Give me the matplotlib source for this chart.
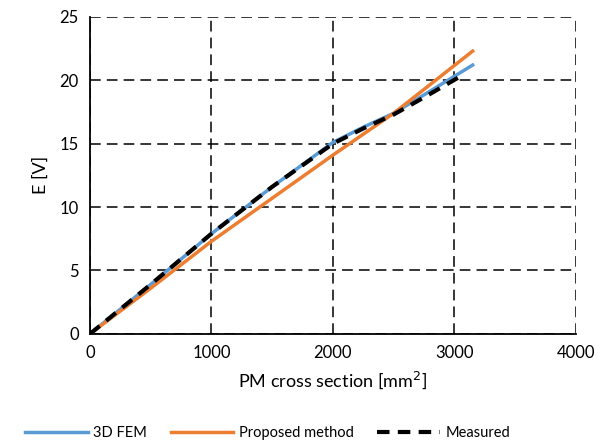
import matplotlib
matplotlib.use('Agg')
import matplotlib.pyplot as plt

plt.rcParams['font.family'] = ['Lato', 'DejaVu Sans']

# data
fem_x = [0, 500, 1000, 1500, 2000, 2250, 2500, 2750, 3150]
fem_y = [0, 3.9, 7.9, 11.6, 15.1, 16.3, 17.4, 18.85, 21.2]

prop_x = [0, 500, 1000, 1500, 2000, 2500, 3150]
prop_y = [0, 3.6, 7.3, 10.7, 14.1, 17.4, 22.3]

meas_x = [0, 500, 1000, 1500, 2000, 2250, 2500, 2750, 3030]
meas_y = [0, 3.9, 7.9, 11.6, 15.0, 16.2, 17.3, 18.65, 20.2]

fig = plt.figure(figsize=(6.12, 4.44), dpi=100)
ax = fig.add_axes([0.147, 0.248, 0.794, 0.714])

ax.plot(fem_x, fem_y, color='#5B9BD5', lw=2.5, label='3D FEM', zorder=3)
ax.plot(prop_x, prop_y, color='#ED7D31', lw=2.5, label='Proposed method', zorder=3)
ax.plot(meas_x, meas_y, color='black', lw=3, ls=(0, (3, 2)), label='Measured', zorder=4)

ax.set_xlim(0, 4000)
ax.set_ylim(0, 25)
ax.set_xticks([0, 1000, 2000, 3000, 4000])
ax.set_yticks([0, 5, 10, 15, 20, 25])
ax.grid(True, color='black', ls=(0, (7, 4)), lw=1.1)
ax.set_axisbelow(True)

for s in ['top', 'right']:
    ax.spines[s].set_visible(False)
for s in ['left', 'bottom']:
    ax.spines[s].set_linewidth(1.3)

ax.tick_params(length=0, labelsize=12, pad=8)
ax.set_xlabel('PM cross section [mm$^2$]', fontsize=13, labelpad=6)
ax.set_ylabel('E [V]', fontsize=13, labelpad=8)

ax.legend(loc='center', bbox_to_anchor=(0.366, -0.312), ncol=3, frameon=False,
          fontsize=10.5, handlelength=4.3, columnspacing=1.6, handletextpad=0.4)

fig.savefig('out.png', dpi=100)
